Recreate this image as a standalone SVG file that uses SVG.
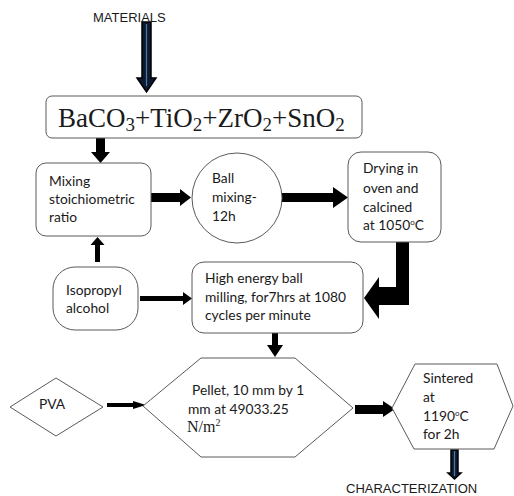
<svg xmlns="http://www.w3.org/2000/svg" width="514" height="496" viewBox="0 0 514 496">
<style>
.box{fill:#fff;stroke:#5a5a5a;stroke-width:1}
.t{font-family:Lato,"Open Sans","Liberation Sans",sans-serif;font-size:13.8px;fill:#1a1a1a}
.a{font-family:"Liberation Sans",Arial,sans-serif;font-size:13px;fill:#1a1a1a}
.s{font-family:"Liberation Serif","Times New Roman",serif;fill:#1a1a1a}
.arr{fill:#000}
.navy{fill:#0d1a2e;stroke:#000;stroke-width:1.5;stroke-linejoin:miter}
.blue{stroke:#4a78b0;stroke-width:1.2;fill:none}
</style>
<rect width="514" height="496" fill="#fff"/>
<g id="connectors">
<polygon class="navy" points="142,22 151,22 151,78 156,78 146.5,92 137,78 142,78"/>
<line class="blue" x1="146.5" y1="24" x2="146.5" y2="86"/>
<polygon class="arr" points="96,138 105,138 105,152 110,152 100.5,163 91,152 96,152"/>
<polygon class="arr" points="151,193 180,193 180,189 191,197.5 180,206 180,202 151,202"/>
<polygon class="arr" points="282,193 333,193 333,187 348,197.5 333,208 333,202 282,202"/>
<polygon class="arr" points="396,242 409,242 409,305 379,305 379,319 364,298 379,277 379,287 396,287"/>
<polygon class="arr" points="95,262 100,262 100,245 104.5,245 97.5,237 90.5,245 95,245"/>
<polygon class="arr" points="140,296 183,296 183,292 192,298.5 183,305 183,301 140,301"/>
<polygon class="arr" points="272,333 278,333 278,345 283,345 275,357 267,345 272,345"/>
<polygon class="arr" points="107,403 133,403 133,401 146,405 133,409 133,407 107,407"/>
<polygon class="arr" points="355,405 383,405 383,401 395,409 383,417 383,414 355,414"/>
<polygon class="navy" points="451,450 458,450 458,473 461,473 454.5,479 448,473 451,473"/>
<line class="blue" x1="454.5" y1="451" x2="454.5" y2="476"/>
</g>
<g id="materials">
<text class="a" x="93" y="22">MATERIALS</text>
</g>
<g id="oxides">
<rect class="box" x="46" y="96" width="316" height="42" rx="6"/>
<text class="s" x="58" y="127" font-size="27">BaCO<tspan font-size="19" dy="4">3</tspan><tspan dy="-4">+TiO</tspan><tspan font-size="19" dy="4">2</tspan><tspan dy="-4">+ZrO</tspan><tspan font-size="19" dy="4">2</tspan><tspan dy="-4">+SnO</tspan><tspan font-size="19" dy="4">2</tspan></text>
</g>
<g id="mixing">
<rect class="box" x="36" y="163" width="115" height="73" rx="10"/>
<text class="t" x="49" y="186">Mixing</text>
<text class="t" x="49" y="204">stoichiometric</text>
<text class="t" x="49" y="222">ratio</text>
</g>
<g id="ball">
<circle class="box" cx="237" cy="198" r="45"/>
<text class="t" x="212" y="183">Ball</text>
<text class="t" x="212" y="202">mixing-</text>
<text class="t" x="212" y="221">12h</text>
</g>
<g id="drying">
<rect class="box" x="348" y="152" width="93" height="90" rx="13"/>
<text class="t" x="363" y="173">Drying in</text>
<text class="t" x="363" y="193">oven and</text>
<text class="t" x="363" y="212">calcined</text>
<text class="t" x="363" y="230">at 1050<tspan font-size="8" dy="-5">o</tspan><tspan dy="5">C</tspan></text>
</g>
<g id="isopropyl">
<rect class="box" x="53" y="267" width="85" height="63" rx="22"/>
<text class="t" x="66" y="295">Isopropyl</text>
<text class="t" x="66" y="313">alcohol</text>
</g>
<g id="milling">
<rect class="box" x="192" y="262" width="171" height="71" rx="12"/>
<text class="t" x="205" y="283">High energy ball</text>
<text class="t" x="205" y="302">milling, for7hrs at 1080</text>
<text class="t" x="205" y="320">cycles per minute</text>
</g>
<g id="pva">
<polygon class="box" points="10,407 56,378 103,407 56,436"/>
<text class="t" x="39" y="409">PVA</text>
</g>
<g id="pellet">
<polygon class="box" points="143,406 201,358 295,358 353,408 295,457 201,457"/>
<text class="t" x="192" y="395">Pellet, 10 mm by 1</text>
<text class="t" x="188" y="414">mm at 49033.25</text>
<text class="s" x="187" y="432" font-size="16">N/m<tspan font-size="10" dy="-6">2</tspan></text>
</g>
<g id="sintered">
<polygon class="box" points="392,408 415,364 497,364 513,406 494,449 414,449"/>
<text class="t" x="423" y="383">Sintered</text>
<text class="t" x="423" y="402">at</text>
<text class="t" x="423" y="421">1190<tspan font-size="8" dy="-5">o</tspan><tspan dy="5">C</tspan></text>
<text class="t" x="423" y="439">for 2h</text>
</g>
<g id="characterization">
<text class="a" x="346" y="493">CHARACTERIZATION</text>
</g>
</svg>
